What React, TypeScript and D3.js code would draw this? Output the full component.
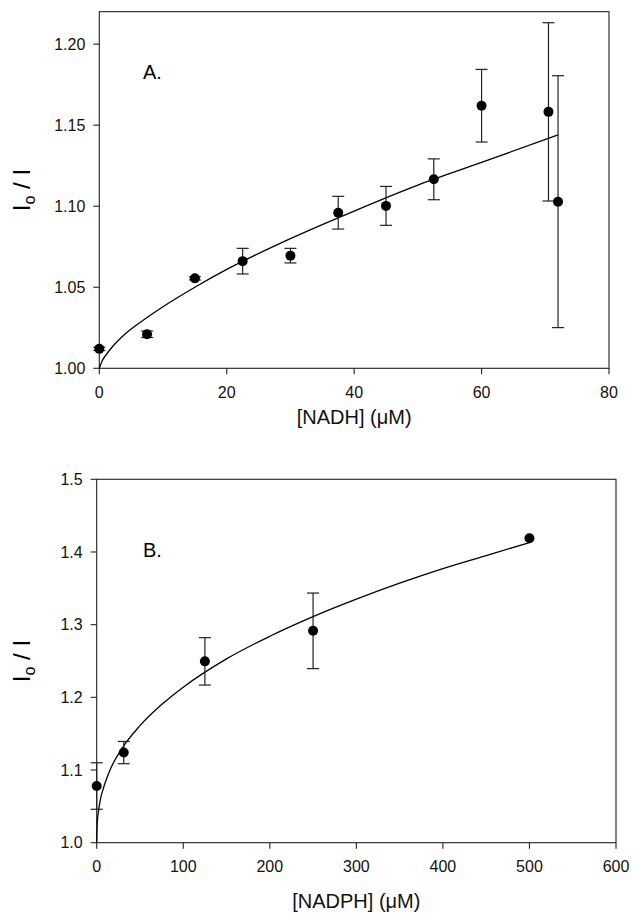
import React from "react";
import * as d3 from "d3";

// ---- Panel A: NADH ----
const nadhX = [0, 7.5, 15, 22.5, 30, 37.5, 45, 52.5, 60, 70.5, 72];
const nadhY = [1.012, 1.021, 1.0555, 1.0661, 1.0695, 1.096, 1.1002, 1.1166, 1.162, 1.1582, 1.1028];
const nadhErr = [0.001, 0.002, 0.001, 0.0079, 0.0045, 0.0101, 0.012, 0.0126, 0.0224, 0.055, 0.0777];
const nadhFitX = [0, 0.5, 1, 2, 4, 7, 10, 15, 20, 30, 40, 50, 60, 72];
const nadhFitY = [1.0, 1.005, 1.008, 1.013, 1.021, 1.03, 1.038, 1.05, 1.061, 1.08, 1.097, 1.113, 1.127, 1.144];
const nadhXTicks = [0, 20, 40, 60, 80];
const nadhYTicks = [1.0, 1.05, 1.1, 1.15, 1.2];

// ---- Panel B: NADPH ----
const nadphX = [0, 31.25, 125, 250, 500];
const nadphY = [1.078, 1.124, 1.2495, 1.2915, 1.4188];
const nadphErr = [0.032, 0.0153, 0.0326, 0.052, 0];
const nadphFitX = [0, 0.5, 1, 2, 4, 8, 15, 30, 50, 75, 100, 150, 200, 250, 300, 350, 400, 450, 500];
const nadphFitY = [1.0, 1.025, 1.033, 1.043, 1.058, 1.076, 1.099, 1.131, 1.161, 1.19, 1.214, 1.253, 1.284, 1.311, 1.335, 1.357, 1.377, 1.395, 1.413];
const nadphXTicks = [0, 100, 200, 300, 400, 500, 600];
const nadphYTicks = [1.0, 1.1, 1.2, 1.3, 1.4, 1.5];

const FONT = "'Liberation Sans', Arial, Helvetica, sans-serif";
const INK = "#222";

type PanelProps = {
  xs: number[]; ys: number[]; errs: number[];
  fx: number[]; fy: number[];
  xTicks: number[]; yTicks: number[];
  xDomain: [number, number]; yDomain: [number, number];
  left: number; right: number; top: number; bottom: number;
  yFmt: (v: number) => string;
  letter: string; xLabel: string; xLabelY: number;
  yLabelX: number; letterY: number;
};

function Panel(p: PanelProps) {
  const x = d3.scaleLinear().domain(p.xDomain).range([p.left, p.right]);
  const y = d3.scaleLinear().domain(p.yDomain).range([p.bottom, p.top]);
  const line = d3
    .line<number>()
    .x((_, i) => x(p.fx[i]))
    .y((d) => y(d))
    .curve(d3.curveMonotoneX);
  const cap = 6;
  const cy = (p.top + p.bottom) / 2;
  return (
    <g fontFamily={FONT}>
      <rect x={p.left} y={p.top} width={p.right - p.left} height={p.bottom - p.top}
        fill="none" stroke={INK} strokeWidth={1.1} />
      {p.yTicks.map((t) => (
        <g key={"y" + t}>
          <line x1={p.left - 6} x2={p.left} y1={y(t)} y2={y(t)} stroke={INK} strokeWidth={1.1} />
          <text x={p.left - 14} y={y(t)} dy="0.36em" textAnchor="end" fontSize={16} fill="#111">
            {p.yFmt(t)}
          </text>
        </g>
      ))}
      {p.xTicks.map((t) => (
        <g key={"x" + t}>
          <line x1={x(t)} x2={x(t)} y1={p.bottom} y2={p.bottom + 6} stroke={INK} strokeWidth={1.1} />
          <text x={x(t)} y={p.bottom + 29.5} textAnchor="middle" fontSize={16} fill="#111">
            {t}
          </text>
        </g>
      ))}
      <path d={line(p.fy) || ""} fill="none" stroke="#000" strokeWidth={1.3} />
      {p.xs.map((xv, i) => {
        if (!p.errs[i]) return null;
        const px = x(xv);
        const y1 = y(p.ys[i] + p.errs[i]);
        const y2 = y(p.ys[i] - p.errs[i]);
        return (
          <g key={"e" + i} stroke={INK} strokeWidth={1.2}>
            <line x1={px} x2={px} y1={y1} y2={y2} />
            <line x1={px - cap} x2={px + cap} y1={y1} y2={y1} />
            <line x1={px - cap} x2={px + cap} y1={y2} y2={y2} />
          </g>
        );
      })}
      {p.xs.map((xv, i) => (
        <circle key={"p" + i} cx={x(xv)} cy={y(p.ys[i])} r={5} fill="#000" />
      ))}
      <text x={143} y={p.letterY} fontSize={20} fill="#000">{p.letter}</text>
      <text x={(p.left + p.right) / 2} y={p.xLabelY} textAnchor="middle" fontSize={20} fill="#111">
        {p.xLabel}
      </text>
      <text transform={`translate(${p.yLabelX},${cy}) rotate(-90)`} textAnchor="middle" fontSize={24} fill="#000">
        I<tspan fontSize={16} dy={5}>o</tspan><tspan dy={-5}> / I</tspan>
      </text>
    </g>
  );
}

export default function App() {
  return (
    <svg width={633} height={913} style={{ position: "absolute", left: 0, top: 0, background: "#fff" }}>
      <rect width={633} height={913} fill="#fff" />
      <Panel
        xs={nadhX} ys={nadhY} errs={nadhErr} fx={nadhFitX} fy={nadhFitY}
        xTicks={nadhXTicks} yTicks={nadhYTicks}
        xDomain={[0, 80]} yDomain={[1.0, 1.22]}
        left={99.3} right={609} top={11.7} bottom={368.3}
        yFmt={d3.format(".2f")}
        letter="A." letterY={79.3}
        xLabel="[NADH] (μM)" xLabelY={424}
        yLabelX={30}
      />
      <Panel
        xs={nadphX} ys={nadphY} errs={nadphErr} fx={nadphFitX} fy={nadphFitY}
        xTicks={nadphXTicks} yTicks={nadphYTicks}
        xDomain={[0, 600]} yDomain={[1.0, 1.5]}
        left={96.7} right={616} top={479.3} bottom={842.7}
        yFmt={d3.format(".1f")}
        letter="B." letterY={556.7}
        xLabel="[NADPH] (μM)" xLabelY={908}
        yLabelX={30}
      />
    </svg>
  );
}
